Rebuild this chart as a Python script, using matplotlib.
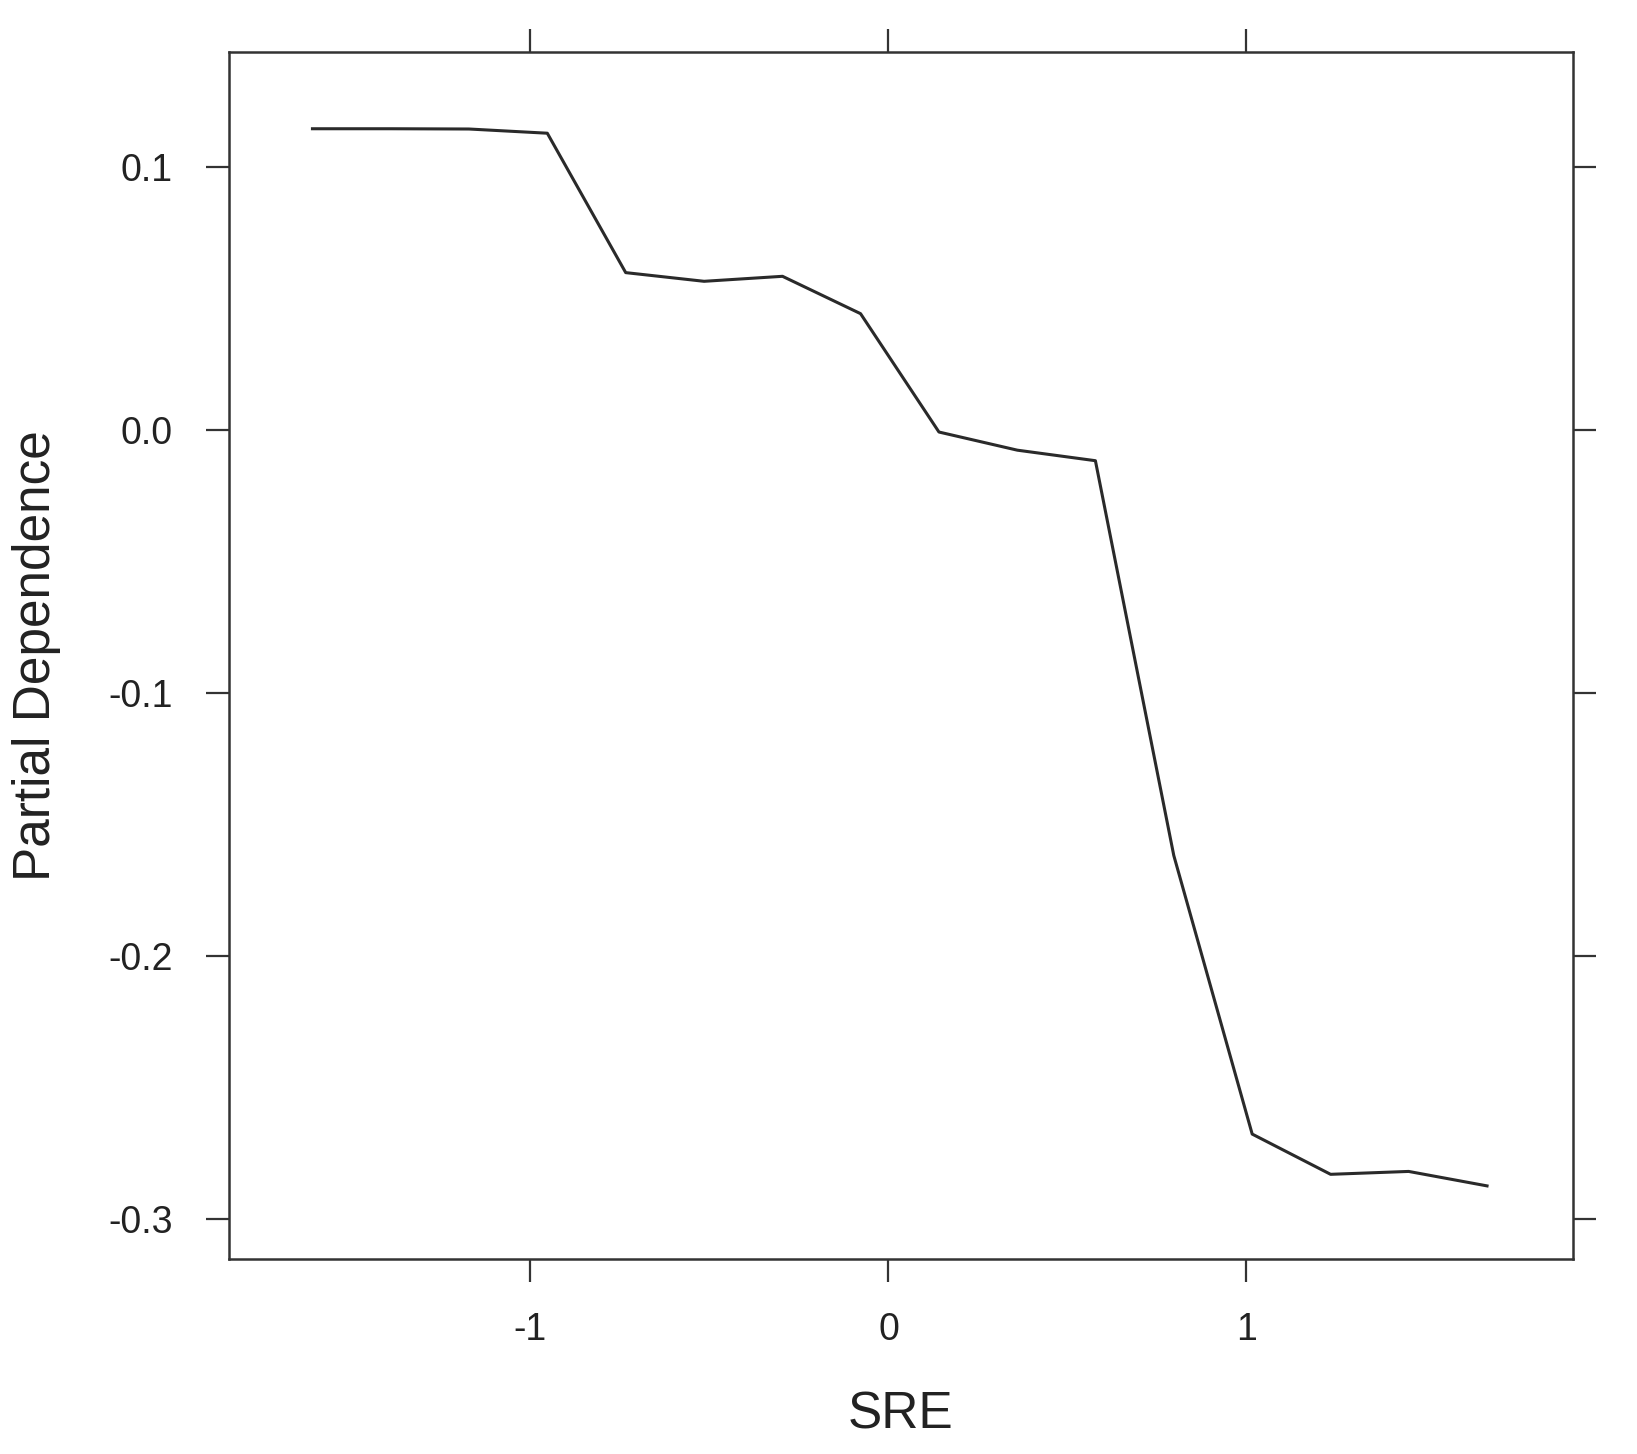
import numpy as np
import matplotlib
matplotlib.use('Agg')
import matplotlib.pyplot as plt

# partial dependence of SRE
sre = [-1.609, -1.390, -1.172, -0.953, -0.734, -0.515, -0.296, -0.078,
       0.141, 0.360, 0.578, 0.797, 1.016, 1.235, 1.453, 1.672]
pdep = [0.1146, 0.1146, 0.1145, 0.1129, 0.0599, 0.0566, 0.0585, 0.0443,
        -0.0007, -0.0076, -0.0116, -0.1617, -0.2676, -0.2829, -0.2818, -0.2873]

xticks = [-1, 0, 1]
yticks = [0.1, 0.0, -0.1, -0.2, -0.3]
ytick_labels = ['0.1', '0.0', '-0.1', '-0.2', '-0.3']

plt.rcParams['font.family'] = ['Liberation Sans', 'DejaVu Sans']

fig = plt.figure(figsize=(16.37, 14.54), dpi=100)
ax = fig.add_axes([0.1397, 0.1341, 0.8214, 0.8300])

ax.plot(sre, pdep, color='#2a2a2a', lw=2.2)

ax.set_xlim(-1.843, 1.913)
ax.set_ylim(-0.3151, 0.1437)

ax.set_xticks(xticks)
ax.set_xticklabels([str(t) for t in xticks])
ax.set_yticks(yticks)
ax.set_yticklabels(ytick_labels)

# lattice style: ticks on all four sides, labels only bottom/left
ax.tick_params(axis='both', which='major', direction='out', length=16.5,
               width=1.6, color='#333333', labelsize=27, labelcolor='#222222',
               top=True, right=True, labeltop=False, labelright=False)
ax.tick_params(axis='x', pad=22)
ax.tick_params(axis='y', pad=24)

for sp in ax.spines.values():
    sp.set_linewidth(1.8)
    sp.set_color('#333333')

ax.set_xlabel('SRE', fontsize=37, color='#222222', labelpad=30)
ax.set_ylabel('Partial Dependence', fontsize=37, color='#222222', labelpad=34)

fig.savefig('out.png', dpi=100)
